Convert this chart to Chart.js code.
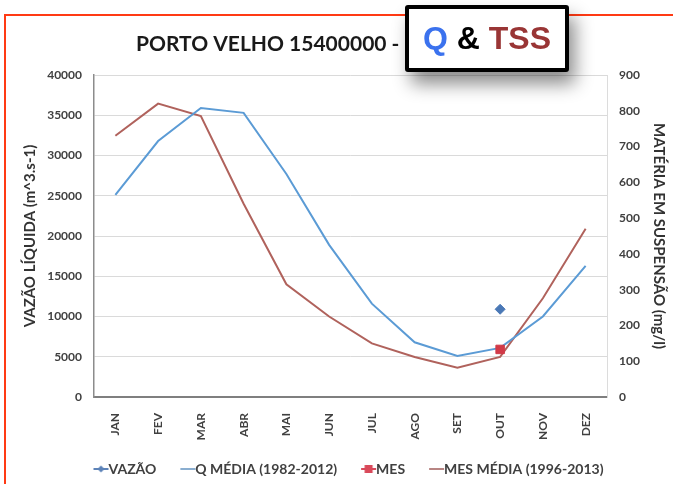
<!DOCTYPE html>
<html>
<head>
<meta charset="utf-8">
<script src="https://cdn.jsdelivr.net/npm/chart.js@4.4.1/dist/chart.umd.min.js"></script>
<style>
  html, body { margin: 0; padding: 0; background: #fff; }
  body { width: 673px; height: 484px; position: relative; overflow: hidden; }
  #frame {
    position: absolute; left: 4px; top: 14px; width: 669px; height: 470px;
    border-top: 2px solid #ff3a14; border-left: 2px solid #ff3a14;
  }
  #wrap { position: absolute; left: 0; top: 0; width: 669px; height: 470px; }
  #badge {
    position: absolute; left: 405px; top: 5px; width: 156px; height: 59px;
    border: 4px solid #000; border-radius: 3px; background: #fff;
    box-shadow: 6px 12px 18px rgba(0, 0, 0, 0.45);
    font: bold 32px "Liberation Sans", Arial, sans-serif;
    text-align: center; line-height: 59px;
  }
  #badge .q { color: #3b72ee; }
  #badge .amp { color: #000; }
  #badge .tss { color: #993535; }
</style>
</head>
<body>
<div id="frame"><div id="wrap"><canvas id="chart"></canvas></div></div>
<div id="badge"><span class="q">Q</span> <span class="amp">&amp;</span> <span class="tss">TSS</span></div>
<script>
var months = ['JAN', 'FEV', 'MAR', 'ABR', 'MAI', 'JUN', 'JUL', 'AGO', 'SET', 'OUT', 'NOV', 'DEZ'];
// vazao medida (so OUT) e vazao media mensal, m3/s
var vazao = [null, null, null, null, null, null, null, null, null, 10900, null, null];
var qMedia = [25100, 31800, 35900, 35300, 27700, 18900, 11600, 6800, 5100, 6100, 10000, 16300];
// materia em suspensao, mg/l
var mes = [null, null, null, null, null, null, null, null, null, 133, null, null];
var mesMedia = [730, 820, 785, 540, 315, 225, 150, 112, 82, 112, 276, 470];

var FONT = 'Lato, "Open Sans", sans-serif';
var TXT = '#404040';

// simbolo da legenda: linha + marcador, encostado no texto (lado direito da imagem)
function legendIcon(color, marker) {
  var c = document.createElement('canvas');
  c.width = 48; c.height = 12;
  var g = c.getContext('2d');
  g.strokeStyle = color; g.lineWidth = 2;
  g.beginPath(); g.moveTo(28, 6); g.lineTo(43, 6); g.stroke();
  g.fillStyle = color;
  if (marker === 'diamond') {
    g.beginPath(); g.moveTo(35.5, 2.5); g.lineTo(39, 6); g.lineTo(35.5, 9.5); g.lineTo(32, 6); g.closePath(); g.fill();
  } else if (marker === 'square') {
    g.fillRect(31.5, 2, 8, 8);
  }
  return c;
}

var titlePlugin = {
  id: 'leftTitle',
  afterDraw: function(chart) {
    var ctx = chart.ctx;
    ctx.save();
    ctx.font = 'bold 21px ' + FONT;
    ctx.fillStyle = '#1a1a1a';
    ctx.textBaseline = 'middle';
    ctx.fillText('PORTO VELHO 15400000 -', 130, 28);
    ctx.restore();
  }
};

var ctx = document.getElementById('chart').getContext('2d');
new Chart(ctx, {
  type: 'line',
  data: {
    labels: months,
    datasets: [{
      label: 'VAZÃO',
      data: vazao,
      yAxisID: 'y',
      showLine: false,
      pointStyle: 'rectRot',
      pointRadius: 5,
      backgroundColor: '#4a78b6',
      borderColor: '#4a78b6',
      legendIcon: legendIcon('#5d83b8', 'diamond')
    }, {
      label: 'Q MÉDIA (1982-2012)',
      data: qMedia,
      yAxisID: 'y',
      borderColor: '#5b9bd5',
      backgroundColor: '#5b9bd5',
      borderWidth: 2,
      pointRadius: 0,
      order: 2,
      legendIcon: legendIcon('#8aaed0')
    }, {
      label: 'MES',
      data: mes,
      yAxisID: 'y1',
      showLine: false,
      pointStyle: 'rect',
      pointRadius: 6,
      backgroundColor: '#d23a48',
      borderColor: '#d23a48',
      order: -1,
      legendIcon: legendIcon('#d9495a', 'square')
    }, {
      label: 'MES MÉDIA (1996-2013)',
      data: mesMedia,
      yAxisID: 'y1',
      borderColor: '#b0625c',
      backgroundColor: '#b0625c',
      borderWidth: 2,
      pointRadius: 0,
      order: 3,
      legendIcon: legendIcon('#b88583')
    }]
  },
  options: {
    responsive: true,
    maintainAspectRatio: false,
    animation: false,
    layout: { padding: { top: 59, left: 0, right: 0, bottom: 0 } },
    plugins: {
      title: { display: false },
      tooltip: { enabled: false },
      legend: {
        position: 'bottom',
        labels: {
          usePointStyle: true,
          pointStyleWidth: 24,
          padding: 8,
          color: TXT,
          font: { family: FONT, size: 14, weight: 'bold' },
          generateLabels: function(chart) {
            return chart.data.datasets.map(function(ds, i) {
              return {
                text: ds.label,
                pointStyle: ds.legendIcon,
                fontColor: TXT,
                lineWidth: 0,
                strokeStyle: 'rgba(0,0,0,0)',
                fillStyle: 'rgba(0,0,0,0)',
                datasetIndex: i
              };
            });
          }
        }
      }
    },
    scales: {
      x: {
        offset: true,
        grid: { display: false },
        border: { display: true, color: '#7f7f7f', width: 2 },
        ticks: {
          color: TXT,
          minRotation: 90,
          maxRotation: 90,
          padding: 8,
          font: { family: FONT, size: 12, weight: 'bold' }
        },
        afterFit: function(scale) { scale.height = 57; }
      },
      y: {
        position: 'left',
        min: 0,
        max: 40000,
        grid: { color: '#dadada', drawTicks: false },
        border: { display: true, color: '#8c8c8c', width: 1.5 },
        ticks: {
          stepSize: 5000,
          color: TXT,
          padding: 12,
          font: { family: FONT, size: 12, weight: 'bold' },
          callback: function(v) { return String(v); }
        },
        title: {
          display: true,
          text: 'VAZÃO LÍQUIDA (m^3.s-1)',
          color: '#333',
          padding: { top: 15, bottom: 0 },
          font: { family: FONT, size: 15, weight: 'bold' }
        },
        afterFit: function(scale) { scale.width = 88; }
      },
      y1: {
        position: 'right',
        min: 0,
        max: 900,
        grid: { display: false, drawTicks: false },
        border: { display: true, color: '#dcdcdc', width: 1 },
        ticks: {
          stepSize: 100,
          color: TXT,
          padding: 12,
          font: { family: FONT, size: 12, weight: 'bold' },
          callback: function(v) { return String(v); }
        },
        title: {
          display: true,
          text: 'MATÉRIA EM SUSPENSÃO (mg/l)',
          color: '#333',
          padding: { top: 7, bottom: 0 },
          font: { family: FONT, size: 15, weight: 'bold' }
        },
        afterFit: function(scale) { scale.width = 68; }
      }
    }
  },
  plugins: [titlePlugin]
});
</script>
</body>
</html>
